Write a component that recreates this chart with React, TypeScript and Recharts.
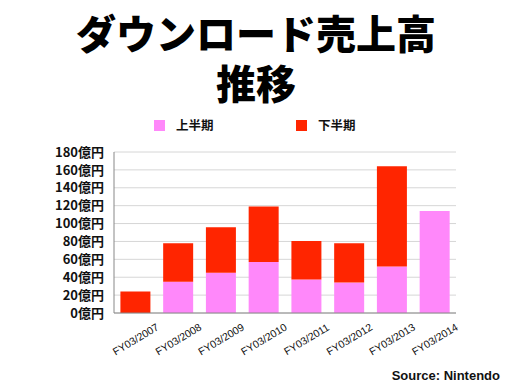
import React from "react";
import { BarChart, Bar, XAxis, YAxis, CartesianGrid } from "recharts";

const categories = ["FY03/2007", "FY03/2008", "FY03/2009", "FY03/2010", "FY03/2011", "FY03/2012", "FY03/2013", "FY03/2014"];
const firstHalf = [0, 35, 45, 57, 37.5, 34, 52, 114];
const secondHalf = [24, 43, 51, 62, 43, 44, 112, 0];
const yTicks = [0, 20, 40, 60, 80, 100, 120, 140, 160, 180];
const legendLabels = ["上半期", "下半期"];
const titleLines = ["ダウンロード売上高", "推移"];

const data = categories.map((c, i) => ({ name: c, first: firstHalf[i], second: secondHalf[i] }));

const PINK = "#ff88fa";
const RED = "#ff2500";
const JP = "'Noto Sans CJK JP', 'Noto Sans', sans-serif";

const XTick = (props: any) => {
  const { x, y, payload } = props;
  const cy = y + 18;
  return (
    <text
      x={x}
      y={cy}
      textAnchor="middle"
      dominantBaseline="central"
      transform={`rotate(-31, ${x}, ${cy})`}
      fontSize={10.5}
      fontFamily="'Liberation Sans', Arial, sans-serif"
      fill="#111"
    >
      {payload.value}
    </text>
  );
};

export default function App() {
  return (
    <div style={{ position: "absolute", left: 0, top: 0, width: 512, height: 384, background: "#fff" }}>
      {titleLines.map((t, i) => (
        <div
          key={i}
          style={{
            position: "absolute",
            left: 0,
            top: 10 + i * 50,
            width: 512,
            height: 44,
            textAlign: "center",
            fontFamily: JP,
            fontWeight: 900,
            fontSize: 40,
            lineHeight: "44px",
            color: "#000",
          }}
        >
          {t}
        </div>
      ))}
      <div
        style={{
          position: "absolute",
          left: 154,
          top: 116,
          display: "flex",
          fontFamily: JP,
          fontWeight: 700,
          fontSize: 12.5,
          lineHeight: "18px",
          color: "#111",
        }}
      >
        {[PINK, RED].map((col, i) => (
          <div key={i} style={{ display: "flex", alignItems: "center", width: 142 }}>
            <span style={{ width: 11, height: 11, background: col, display: "inline-block", marginRight: 11 }} />
            <span>{legendLabels[i]}</span>
          </div>
        ))}
      </div>
      <BarChart
        width={512}
        height={384}
        data={data}
        margin={{ top: 152, right: 56, bottom: 11, left: 52 }}
        barCategoryGap="15%"
        style={{ position: "absolute", left: 0, top: 0 }}
      >
        <CartesianGrid vertical={false} stroke="#d6d6d6" />
        <XAxis
          dataKey="name"
          height={60}
          interval={0}
          tick={<XTick />}
          tickLine={false}
          axisLine={{ stroke: "#888" }}
        />
        <XAxis xAxisId="top" orientation="top" height={0} tick={false} tickLine={false} axisLine={{ stroke: "#999" }} />
        <YAxis
          width={62}
          domain={[0, 180]}
          ticks={yTicks}
          interval={0}
          tickFormatter={(v: number) => `${v}億円`}
          tickLine={false}
          tickSize={8}
          tickMargin={2}
          axisLine={{ stroke: "#888" }}
          tick={{ fontSize: 13, fontFamily: JP, fontWeight: 700, fill: "#111" }}
        />
        <YAxis yAxisId="right" orientation="right" width={0} tick={false} tickLine={false} axisLine={{ stroke: "#999" }} />
        <Bar dataKey="first" stackId="a" fill={PINK} isAnimationActive={false} />
        <Bar dataKey="second" stackId="a" fill={RED} isAnimationActive={false} />
      </BarChart>
      <div
        style={{
          position: "absolute",
          right: 12,
          top: 368,
          fontFamily: "'Liberation Sans', Arial, sans-serif",
          fontWeight: 700,
          fontSize: 13,
          color: "#111",
        }}
      >
        Source: Nintendo
      </div>
    </div>
  );
}
